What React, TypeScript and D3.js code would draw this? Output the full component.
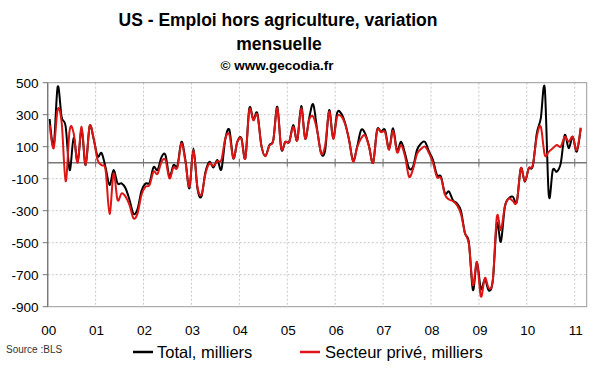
import React, { useEffect } from "react";
import * as d3 from "d3";

const yearLabels = ["00", "01", "02", "03", "04", "05", "06", "07", "08", "09", "10", "11"];
const yTicks = [500, 300, 100, -100, -300, -500, -700, -900];

// Monthly change, Jan 2000 .. Feb 2011 (thousands)
const total = [
  273, 105, 475, 285, 225, -46, 155, 6, 205, -15, 228, 150,
  40, 60, -30, -140, -46, -129, -129, -160, -233, -320, -290, -175,
  -130, -125, -28, -46, 35, 48, -87, -15, -18, 131, 15, -160,
  88, -160, -212, -60, 6, -30, 17, -42, 150, 205, 27, 131,
  155, 30, 340, 270, 310, 110, 42, 110, 140, 350, 85, 130,
  131, 235, 140, 354, 150, 280, 365, 204, 58, 79, 329, 152,
  312, 308, 246, 140, 12, 100, 204, 183, 100, 0, 204, 194,
  204, 85, 215, 75, 131, 58, -35, -25, 80, 120, 130, 70,
  17, -77, -87, -192, -180, -235, -254, -300, -440, -500, -795, -620,
  -790, -729, -800, -733, -380, -494, -275, -223, -212, -244, -35, -119,
  -35, -21, 183, 277, 465, -202, -46, -56, -4, 173, 90, 162,
  69, 215,
];

const prive = [
  235, 90, 333, 250, -116, 204, 185, 0, 225, -15, 229, 152,
  17, -15, -46, -320, -67, -233, -192, -212, -265, -348, -317, -200,
  -150, -140, -56, -70, 5, 17, -98, -30, -30, 121, 5, -150,
  80, -150, -200, -70, -5, -20, 10, 17, 152, 175, 27, 131,
  150, 27, 330, 265, 300, 110, 40, 105, 140, 340, 90, 131,
  131, 225, 140, 340, 150, 270, 287, 200, 58, 110, 320, 150,
  287, 290, 240, 140, 6, 95, 152, 170, 100, 0, 200, 190,
  190, 80, 200, 65, 110, 40, -87, -40, 55, 85, 100, 60,
  0, -90, -95, -200, -230, -240, -265, -320, -440, -510, -765, -620,
  -837, -720, -785, -730, -337, -420, -275, -223, -240, -244, -35, -115,
  -35, -15, 162, 225, 48, 69, 90, 110, 100, 162, 131, 162,
  79, 219,
];

const W = 600;
const H = 372;
const L = 47.7, R = 586.7, T = 82.7, B = 306.7;
const FONT = "Arial, 'Liberation Sans', Helvetica, sans-serif";

export default function App() {
  useEffect(() => {
    document.body.style.margin = "0";
  }, []);

  const x = d3.scaleLinear().domain([0, 135]).range([L, R]);
  const y = d3.scaleLinear().domain([-900, 500]).range([B, T]);

  const line = d3
    .line<number>()
    .x((_, i) => x(i + 0.5))
    .y((d) => y(d))
    .curve(d3.curveCatmullRom.alpha(0));

  const gridY = yTicks.filter((v) => v !== 500 && v !== -900);
  const yearIdx = d3.range(1, 12);

  return (
    <svg width={W} height={H} style={{ position: "absolute", left: 0, top: 0, background: "#fff" }}>
      <rect x={0} y={0} width={W} height={H} fill="#fff" />
      <g fontFamily={FONT} fontWeight="bold" textAnchor="middle" fill="#000">
        <text x={278} y={26} fontSize={17.5}>US - Emploi hors agriculture, variation</text>
        <text x={279} y={50} fontSize={17.5}>mensuelle</text>
        <text x={277} y={70} fontSize={13.5}>© www.gecodia.fr</text>
      </g>

      {/* grid */}
      <g stroke="#c8c8c8" strokeWidth={1} strokeDasharray="2,2">
        {gridY.map((v) => (
          <line key={"gy" + v} x1={L} x2={R} y1={y(v)} y2={y(v)} />
        ))}
        {yearIdx.map((k) => (
          <line key={"gx" + k} x1={x(k * 12)} x2={x(k * 12)} y1={T} y2={B} />
        ))}
      </g>

      {/* frame */}
      <rect x={L} y={T} width={R - L} height={B - T} fill="none" stroke="#999" strokeWidth={1} />
      <line x1={L} x2={L} y1={T} y2={B} stroke="#777" strokeWidth={1.3} />

      {/* zero axis */}
      <line x1={L} x2={R} y1={y(0)} y2={y(0)} stroke="#777" strokeWidth={1.5} />
      {yearIdx.map((k) => (
        <line key={"zt" + k} x1={x(k * 12)} x2={x(k * 12)} y1={y(0) - 4} y2={y(0) + 4} stroke="#777" strokeWidth={1} />
      ))}

      {/* y ticks & labels */}
      {yTicks.map((v) => (
        <g key={"yt" + v}>
          <line x1={L - 5} x2={L} y1={y(v)} y2={y(v)} stroke="#777" strokeWidth={1} />
          <text x={38.5} y={y(v)} dy="0.36em" textAnchor="end" fontFamily={FONT} fontSize={13.5} fill="#000">
            {v}
          </text>
        </g>
      ))}

      {/* x labels */}
      {yearLabels.map((lab, k) => (
        <text key={"xl" + lab} x={x(k * 12) + 1} y={335} textAnchor="middle" fontFamily={FONT} fontSize={13.5} fill="#000">
          {lab}
        </text>
      ))}

      {/* series */}
      <path d={line(total) || ""} fill="none" stroke="#000" strokeWidth={2} strokeLinejoin="round" />
      <path d={line(prive) || ""} fill="none" stroke="#dd1515" strokeWidth={2} strokeLinejoin="round" />

      {/* legend */}
      <text x={6} y={353} fontFamily={FONT} fontSize={10} fill="#333">Source :BLS</text>
      <line x1={133} x2={153} y1={352} y2={352} stroke="#000" strokeWidth={2.5} />
      <text x={157} y={358} fontFamily={FONT} fontSize={16.5} fill="#000">Total, milliers</text>
      <line x1={300} x2={320} y1={352} y2={352} stroke="#dd1515" strokeWidth={2.5} />
      <text x={325} y={358} fontFamily={FONT} fontSize={16.5} fill="#000">Secteur privé, milliers</text>
    </svg>
  );
}
